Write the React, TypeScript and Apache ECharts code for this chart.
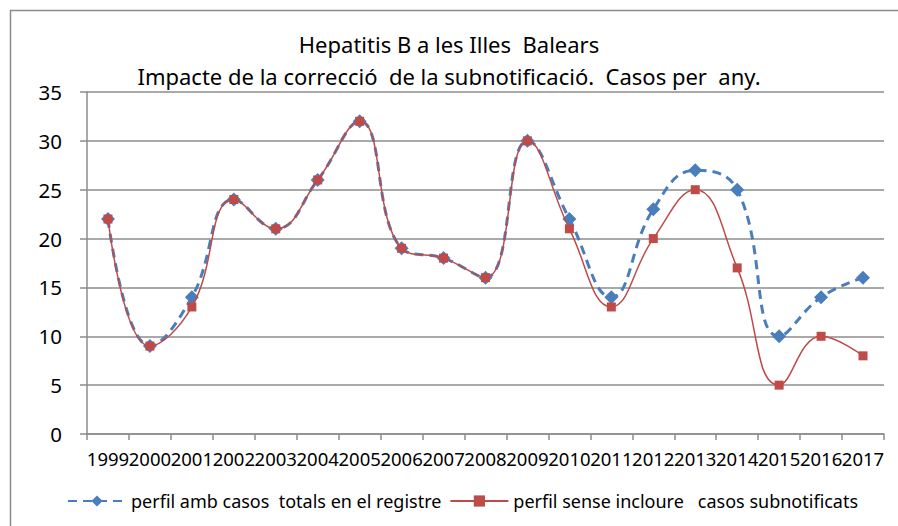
import React, { useEffect, useRef } from "react";
import * as echarts from "echarts";

const years = ["1999","2000","2001","2002","2003","2004","2005","2006","2007","2008","2009","2010","2011","2012","2013","2014","2015","2016","2017"];
const totals = [22, 9, 14, 24, 21, 26, 32, 19, 18, 16, 30, 22, 14, 23, 27, 25, 10, 14, 16];
const senseSub = [22, 9, 13, 24, 21, 26, 32, 19, 18, 16, 30, 21, 13, 20, 25, 17, 5, 10, 8];
const titleLines = ["Hepatitis B a les Illes  Balears", "Impacte de la correcció  de la subnotificació.  Casos per  any."];
const seriesNames = ["perfil amb casos  totals en el registre", "perfil sense incloure   casos subnotificats"];

const FONT = "Noto Sans";

export default function App() {
  const ref = useRef<HTMLDivElement>(null);
  useEffect(() => {
    if (!ref.current) return;
    const chart = echarts.init(ref.current, null, { renderer: "svg" });
    chart.setOption({
      animation: false,
      backgroundColor: "#ffffff",
      textStyle: { fontFamily: FONT },
      graphic: [
        {
          type: "rect",
          shape: { x: 10.5, y: 10.5, width: 900, height: 540 },
          style: { fill: "none", stroke: "#8c8c8c", lineWidth: 1.5 },
          silent: true,
        },
      ],
      title: {
        text: titleLines.join("\n"),
        left: "center",
        top: 23,
        textStyle: { fontFamily: FONT, fontSize: 22, fontWeight: "normal", color: "#000", lineHeight: 32 },
      },
      legend: {
        top: 487,
        left: 62,
        itemWidth: 58,
        itemHeight: 14,
        itemGap: 8,
        textStyle: { fontFamily: FONT, fontSize: 18, color: "#000" },
        data: [seriesNames[0], seriesNames[1]],
      },
      grid: { left: 87, right: 14, top: 92, bottom: 92, containLabel: false },
      xAxis: {
        type: "category",
        data: years,
        boundaryGap: true,
        axisLine: { lineStyle: { color: "#8c8c8c", width: 1.5 } },
        axisTick: { show: true, length: 6, inside: false, lineStyle: { color: "#8c8c8c", width: 1.5 } },
        axisLabel: { interval: 0, fontFamily: FONT, fontSize: 18.5, color: "#000", margin: 15 },
      },
      yAxis: {
        type: "value",
        min: 0,
        max: 35,
        interval: 5,
        axisLine: { show: true, lineStyle: { color: "#8c8c8c", width: 1.5 } },
        axisTick: { show: true, length: 7, lineStyle: { color: "#8c8c8c", width: 1.5 } },
        axisLabel: { fontFamily: FONT, fontSize: 20.5, color: "#000", margin: 25 },
        splitLine: { lineStyle: { color: "#8c8c8c", width: 1.5 } },
      },
      series: [
        {
          name: seriesNames[0],
          type: "line",
          data: totals,
          smooth: 0.45,
          symbol: "diamond",
          symbolSize: 14,
          lineStyle: { color: "#4a7ebb", width: 3, type: [9, 6] },
          itemStyle: { color: "#4a7ebb" },
          z: 2,
        },
        {
          name: seriesNames[1],
          type: "line",
          data: senseSub,
          smooth: 0.45,
          symbol: "rect",
          symbolSize: 9,
          lineStyle: { color: "#be4b48", width: 1.5 },
          itemStyle: { color: "#be4b48" },
          z: 3,
        },
      ],
    });
    return () => chart.dispose();
  }, []);
  return <div ref={ref} style={{ position: "absolute", left: 0, top: 0, width: 898, height: 526 }} />;
}
